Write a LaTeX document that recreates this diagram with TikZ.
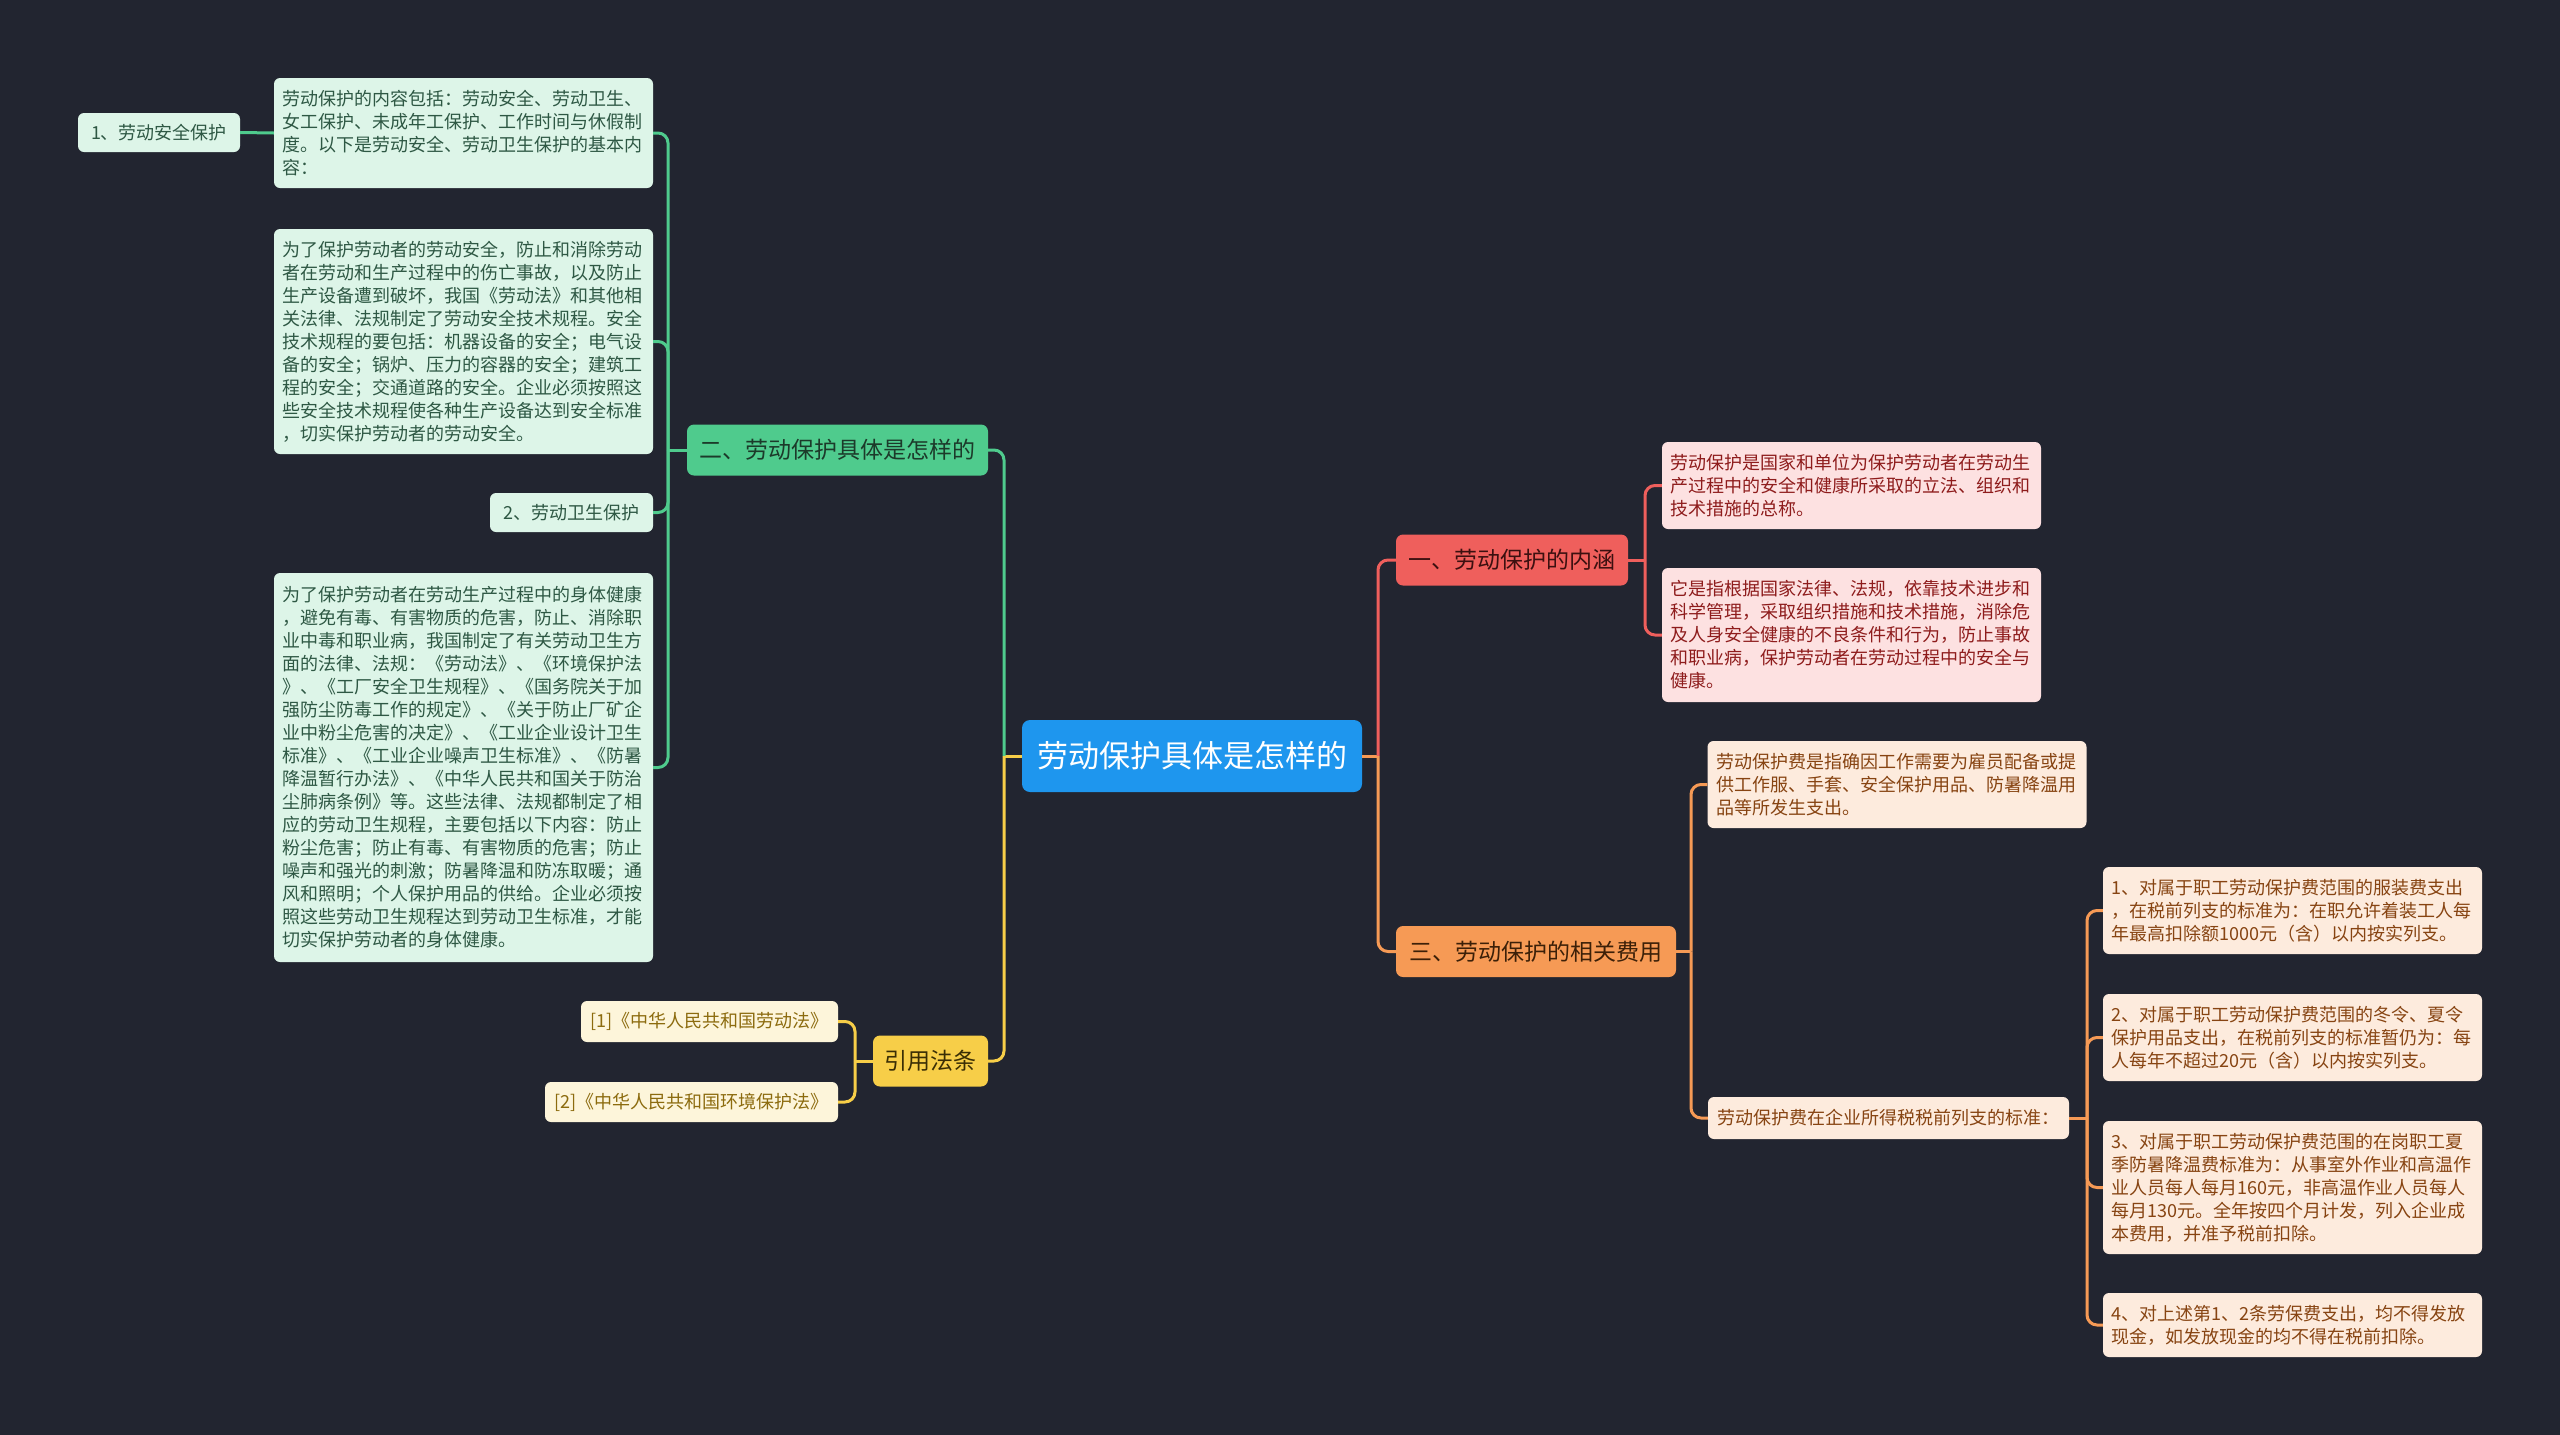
\documentclass[tikz,border=0pt]{standalone}
\usepackage{fontspec}
\setmainfont{Noto Sans CJK SC}
\definecolor{bgc}{HTML}{222530}
\definecolor{cblue}{HTML}{1E96EE}
\definecolor{gline}{HTML}{4FCB8D}
\definecolor{gfill}{HTML}{DDF5E8}
\definecolor{gtext}{HTML}{2E5844}
\definecolor{gdark}{HTML}{1C3A2A}
\definecolor{rline}{HTML}{EF5F5C}
\definecolor{rfill}{HTML}{FDE1E1}
\definecolor{rtext}{HTML}{8E1C1C}
\definecolor{rdark}{HTML}{3C1010}
\definecolor{oline}{HTML}{F69A55}
\definecolor{ofill}{HTML}{FDEBDD}
\definecolor{otext}{HTML}{874412}
\definecolor{odark}{HTML}{3C2008}
\definecolor{yline}{HTML}{F7CE48}
\definecolor{yfill}{HTML}{FDF5DA}
\definecolor{ytext}{HTML}{8C6B0E}
\definecolor{ydark}{HTML}{3A2E05}
\tikzset{
  box/.style={rounded corners=6, inner xsep=8.5pt, inner ysep=0pt, font=\fontsize{18}{23}\selectfont},
  para/.style={box, align=left, text width=362pt, minimum width=379pt},
  small/.style={box, align=center, minimum height=40pt},
  gleaf/.style={fill=gfill, text=gtext},
  rleaf/.style={fill=rfill, text=rtext},
  oleaf/.style={fill=ofill, text=otext},
  yleaf/.style={fill=yfill, text=ytext},
  branch/.style={rounded corners=7, inner sep=0pt, minimum height=51pt, font=\fontsize{23}{28}\selectfont},
  conn/.style={line width=3pt, rounded corners=10pt},
}
\begin{document}
\begin{tikzpicture}[x=1pt,y=-1pt]
\fill[bgc] (0,0) rectangle (2560,1435);
\useasboundingbox (0,0) rectangle (2560,1435);

% central
\node[rounded corners=8, fill=cblue, text=white, minimum width=340pt, minimum height=72pt, inner sep=0pt, font=\fontsize{31}{36}\selectfont] (root) at (1192,756) {劳动保护具体是怎样的};

% green branch
\node[branch, fill=gline, text=gdark, minimum width=301pt] (b2) at (837.5,450) {二、劳动保护具体是怎样的};
\node[para, gleaf, minimum height=110pt] (gA) at (463.5,133) {劳动保护的内容包括：劳动安全、劳动卫生、\\女工保护、未成年工保护、工作时间与休假制\\度。以下是劳动安全、劳动卫生保护的基本内\\容：};
\node[small, gleaf, minimum width=162pt, minimum height=39pt] (g1) at (159,132.5) {1、劳动安全保护};
\node[para, gleaf, minimum height=225pt] (gB) at (463.5,341.5) {为了保护劳动者的劳动安全，防止和消除劳动\\者在劳动和生产过程中的伤亡事故，以及防止\\生产设备遭到破坏，我国《劳动法》和其他相\\关法律、法规制定了劳动安全技术规程。安全\\技术规程的要包括：机器设备的安全；电气设\\备的安全；锅炉、压力的容器的安全；建筑工\\程的安全；交通道路的安全。企业必须按照这\\些安全技术规程使各种生产设备达到安全标准\\，切实保护劳动者的劳动安全。};
\node[small, gleaf, minimum width=163pt, minimum height=39pt] (g2) at (571.5,512.5) {2、劳动卫生保护};
\node[para, gleaf, minimum height=389pt] (gC) at (463.5,767.5) {为了保护劳动者在劳动生产过程中的身体健康\\，避免有毒、有害物质的危害，防止、消除职\\业中毒和职业病，我国制定了有关劳动卫生方\\面的法律、法规：《劳动法》、《环境保护法\\》、《工厂安全卫生规程》、《国务院关于加\\强防尘防毒工作的规定》、《关于防止厂矿企\\业中粉尘危害的决定》、《工业企业设计卫生\\标准》、《工业企业噪声卫生标准》、《防暑\\降温暂行办法》、《中华人民共和国关于防治\\尘肺病条例》等。这些法律、法规都制定了相\\应的劳动卫生规程，主要包括以下内容：防止\\粉尘危害；防止有毒、有害物质的危害；防止\\噪声和强光的刺激；防暑降温和防冻取暖；通\\风和照明；个人保护用品的供给。企业必须按\\照这些劳动卫生规程达到劳动卫生标准，才能\\切实保护劳动者的身体健康。};

% yellow branch
\node[branch, fill=yline, text=ydark, minimum width=115pt] (by) at (930.5,1061) {引用法条};
\node[small, yleaf, minimum width=257pt, minimum height=41pt] (y1) at (709.5,1021.5) {[1]《中华人民共和国劳动法》};
\node[small, yleaf, minimum width=293pt, minimum height=40pt] (y2) at (691.5,1102) {[2]《中华人民共和国环境保护法》};

% red branch
\node[branch, fill=rline, text=rdark, minimum width=232pt] (b1) at (1512,560) {一、劳动保护的内涵};
\node[para, rleaf, minimum height=87pt] (r1) at (1851.5,485.5) {劳动保护是国家和单位为保护劳动者在劳动生\\产过程中的安全和健康所采取的立法、组织和\\技术措施的总称。};
\node[para, rleaf, minimum height=134pt] (r2) at (1851.5,635) {它是指根据国家法律、法规，依靠技术进步和\\科学管理，采取组织措施和技术措施，消除危\\及人身安全健康的不良条件和行为，防止事故\\和职业病，保护劳动者在劳动过程中的安全与\\健康。};

% orange branch
\node[branch, fill=oline, text=odark, minimum width=280pt] (b3) at (1536,951.5) {三、劳动保护的相关费用};
\node[para, oleaf, minimum height=87pt] (o1) at (1897,784.5) {劳动保护费是指确因工作需要为雇员配备或提\\供工作服、手套、安全保护用品、防暑降温用\\品等所发生支出。};
\node[small, oleaf, minimum width=361pt, minimum height=42pt] (o2) at (1888.5,1118) {劳动保护费在企业所得税税前列支的标准：};
\node[para, oleaf, minimum height=87pt] (i1) at (2292.5,910.5) {1、对属于职工劳动保护费范围的服装费支出\\，在税前列支的标准为：在职允许着装工人每\\年最高扣除额1000元（含）以内按实列支。};
\node[para, oleaf, minimum height=87pt] (i2) at (2292.5,1037.5) {2、对属于职工劳动保护费范围的冬令、夏令\\保护用品支出，在税前列支的标准暂仍为：每\\人每年不超过20元（含）以内按实列支。};
\node[para, oleaf, minimum height=133pt] (i3) at (2292.5,1187.5) {3、对属于职工劳动保护费范围的在岗职工夏\\季防暑降温费标准为：从事室外作业和高温作\\业人员每人每月160元，非高温作业人员每人\\每月130元。全年按四个月计发，列入企业成\\本费用，并准予税前扣除。};
\node[para, oleaf, minimum height=64pt] (i4) at (2292.5,1325) {4、对上述第1、2条劳保费支出，均不得发放\\现金，如发放现金的均不得在税前扣除。};

% junction points
\coordinate (cl) at (1004,756);
\coordinate (cr) at (1378,756);
\coordinate (gj) at (668,450);
\coordinate (yj) at (855,1061);
\coordinate (rj) at (1645,560);
\coordinate (oj) at (1691,951.5);
\coordinate (oj2) at (2087,1118);

% connectors from root
\begin{scope}[on background layer/.try]
\end{scope}
\draw[conn, yline] (root.west) -- (cl);
\draw[conn, gline] (cl) |- (b2.east);
\draw[conn, yline] (cl) |- (by.east);
\draw[conn, oline] (root.east) -- (cr);
\draw[conn, rline] (cr) |- (b1.west);
\draw[conn, oline] (cr) |- (b3.west);

% green
\draw[conn, gline] (b2.west) -- (gj);
\draw[conn, gline] (gj) |- (gA.east);
\draw[conn, gline] (gj) |- (gB.east);
\draw[conn, gline] (gj) |- (g2.east);
\draw[conn, gline] (gj) |- (gC.east);
\draw[conn, gline] (gA.west) -- (g1.east);

% yellow
\draw[conn, yline] (by.west) -- (yj);
\draw[conn, yline] (yj) |- (y1.east);
\draw[conn, yline] (yj) |- (y2.east);

% red
\draw[conn, rline] (b1.east) -- (rj);
\draw[conn, rline] (rj) |- (r1.west);
\draw[conn, rline] (rj) |- (r2.west);

% orange
\draw[conn, oline] (b3.east) -- (oj);
\draw[conn, oline] (oj) |- (o1.west);
\draw[conn, oline] (oj) |- (o2.west);
\draw[conn, oline] (o2.east) -- (oj2);
\draw[conn, oline] (oj2) |- (i1.west);
\draw[conn, oline] (oj2) |- (i2.west);
\draw[conn, oline] (oj2) |- (i3.west);
\draw[conn, oline] (oj2) |- (i4.west);
\end{tikzpicture}
\end{document}
